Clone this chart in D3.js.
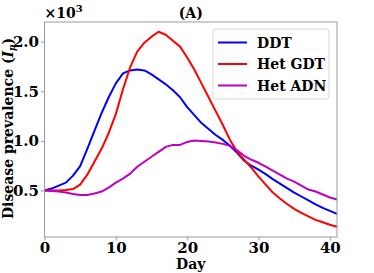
<!DOCTYPE html>
<html>
<head>
<meta charset="utf-8">
<script src="https://cdn.jsdelivr.net/npm/d3@7"></script>
<style>
  body { margin: 0; background: #fff; }
  text { font-family: "DejaVu Serif", serif; font-weight: bold; }
</style>
</head>
<body>
<div id="chart"></div>
<script>
// values, in units of people (axis shows x10^3)
const days = d3.range(0, 42);
const ddt = [500, 520, 550, 580, 650, 745, 920, 1100, 1280, 1440, 1580, 1680, 1710, 1720, 1710, 1670,
  1620, 1570, 1510, 1440, 1340, 1260, 1180, 1120, 1060, 1010, 950, 880, 800, 750, 710, 665, 615,
  570, 525, 480, 440, 400, 360, 325, 295, 265];
const hetGdt = [500, 500, 500, 505, 515, 560, 660, 790, 920, 1080, 1270, 1520, 1740, 1900, 1990, 2050,
  2100, 2070, 2010, 1950, 1840, 1720, 1580, 1440, 1300, 1160, 1010, 890, 810, 730, 640, 560, 480,
  420, 365, 315, 275, 240, 205, 180, 155, 135];
const hetAdn = [500, 495, 490, 480, 465, 455, 455, 470, 490, 530, 580, 620, 670, 740, 790, 840,
  890, 940, 960, 960, 990, 1005, 1000, 995, 985, 970, 950, 905, 850, 810, 780, 740, 700,
  660, 620, 590, 550, 510, 490, 460, 430, 410];
const seriesNames = ['DDT', 'Het GDT', 'Het ADN'];
const seriesColors = ['#0000ff', '#ff0000', '#bf00bf'];
const xTicks = [0, 10, 20, 30, 40];
const yTicks = [500, 1000, 1500, 2000];

const W = 374, H = 273;
const m = { left: 44.5, right: 37, top: 22, bottom: 36 };

const svg = d3.select('#chart').append('svg')
  .attr('width', W).attr('height', H);

const x = d3.scaleLinear().domain([0, 41]).range([m.left, W - m.right]);
const y = d3.scaleLinear().domain([32, 2198]).range([H - m.bottom, m.top]);

const all = [ddt, hetGdt, hetAdn];

const line = d3.line()
  .x((d, i) => x(days[i]))
  .y(d => y(d));

svg.append('g').selectAll('path')
  .data(all)
  .join('path')
    .attr('d', line)
    .attr('fill', 'none')
    .attr('stroke', (d, i) => seriesColors[i])
    .attr('stroke-width', 2)
    .attr('stroke-linejoin', 'round');

// frame
svg.append('rect')
  .attr('x', m.left).attr('y', m.top)
  .attr('width', W - m.right - m.left).attr('height', H - m.bottom - m.top)
  .attr('fill', 'none').attr('stroke', '#9a9a9a').attr('stroke-width', 1);

const xAxis = svg.append('g')
  .attr('transform', `translate(0,${H - m.bottom})`)
  .call(d3.axisBottom(x).tickValues(xTicks).tickSize(3.5).tickPadding(2));
const yAxis = svg.append('g')
  .attr('transform', `translate(${m.left},0)`)
  .call(d3.axisLeft(y).tickValues(yTicks).tickSize(3.5).tickPadding(2)
    .tickFormat(d => (d / 1000).toFixed(1)));

[xAxis, yAxis].forEach(a => {
  a.select('.domain').remove();
  a.selectAll('line').attr('stroke', '#9a9a9a');
  a.selectAll('text').attr('font-size', 15).attr('fill', '#000')
    .style('font-family', '"DejaVu Serif", serif').style('font-weight', 'bold');
});

// labels
svg.append('text')
  .attr('x', (m.left + W - m.right) / 2).attr('y', 269)
  .attr('text-anchor', 'middle').attr('font-size', 14).text('Day');

svg.append('text')
  .attr('transform', `translate(13,${(m.top + H - m.bottom) / 2 - 1}) rotate(-90)`)
  .attr('text-anchor', 'middle').attr('font-size', 14)
  .html('Disease prevalence (<tspan font-style="italic">I</tspan><tspan font-style="italic" font-size="9" dy="2">p</tspan><tspan dy="-2">)</tspan>');

svg.append('text')
  .attr('x', (m.left + W - m.right) / 2).attr('y', 18)
  .attr('text-anchor', 'middle').attr('font-size', 14).text('(A)');

svg.append('text')
  .attr('x', m.left).attr('y', 18).attr('font-size', 14)
  .html('×10<tspan font-size="10" dy="-6">3</tspan>');

// legend
const lg = svg.append('g').attr('transform', 'translate(213,29)');
lg.append('rect')
  .attr('width', 116).attr('height', 70).attr('rx', 3)
  .attr('fill', '#fff').attr('fill-opacity', 0.8)
  .attr('stroke', '#d8d8d8');
seriesNames.forEach((name, i) => {
  const yy = 13.5 + i * 21.5;
  lg.append('line')
    .attr('x1', 5).attr('x2', 34).attr('y1', yy).attr('y2', yy)
    .attr('stroke', seriesColors[i]).attr('stroke-width', 2);
  lg.append('text')
    .attr('x', 44).attr('y', yy + 5).attr('font-size', 14).text(name);
});
</script>
</body>
</html>
